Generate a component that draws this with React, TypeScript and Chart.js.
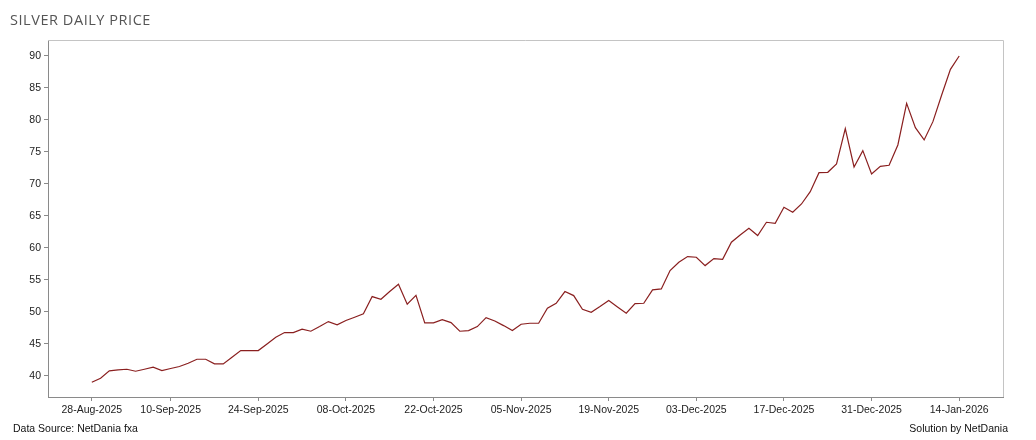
import React, { useEffect, useRef } from "react";
import { Chart, registerables } from "chart.js";

Chart.register(...registerables);

const TITLE = "SILVER DAILY PRICE";
const SOURCE = "Data Source: NetDania fxa";
const CREDIT = "Solution by NetDania";

// x-axis tick labels and the trading-day index (0-based) where each sits
const tickLabels = [
  "28-Aug-2025", "10-Sep-2025", "24-Sep-2025", "08-Oct-2025", "22-Oct-2025",
  "05-Nov-2025", "19-Nov-2025", "03-Dec-2025", "17-Dec-2025", "31-Dec-2025", "14-Jan-2026",
];
const tickIndex = [0, 9, 19, 29, 39, 49, 59, 69, 79, 89, 99];

const yTicks = [40, 45, 50, 55, 60, 65, 70, 75, 80, 85, 90];

// daily closing prices, one per trading day from 28-Aug-2025 to 14-Jan-2026
const prices = [
  39.0, 39.64, 40.78, 40.94, 41.04, 40.73, 41.04, 41.35, 40.83, 41.15,
  41.46, 41.98, 42.6, 42.6, 41.88, 41.88, 42.92, 43.96, 43.96, 43.96,
  45.0, 46.04, 46.77, 46.77, 47.29, 46.98, 47.71, 48.49, 47.97, 48.65,
  49.17, 49.69, 52.4, 51.98, 53.18, 54.32, 51.2, 52.6, 48.28, 48.28,
  48.8, 48.33, 46.98, 47.08, 47.71, 49.11, 48.59, 47.86, 47.08, 48.07,
  48.23, 48.23, 50.57, 51.35, 53.18, 52.55, 50.42, 49.95, 50.83, 51.77,
  50.78, 49.8, 51.3, 51.35, 53.44, 53.59, 56.46, 57.76, 58.65, 58.54,
  57.24, 58.33, 58.23, 60.89, 62.03, 63.07, 61.93, 64.01, 63.85, 66.35,
  65.57, 66.87, 68.8, 71.77, 71.82, 73.13, 78.65, 72.66, 75.21, 71.56,
  72.76, 72.92, 76.09, 82.6, 78.8, 76.88, 79.74, 83.9, 87.92, 90.0,
];

const frameBorder = {
  id: "frameBorder",
  beforeDatasetsDraw(chart: any) {
    const { ctx, chartArea } = chart;
    ctx.save();
    ctx.strokeStyle = "#c4c4c4";
    ctx.lineWidth = 1;
    ctx.beginPath();
    ctx.moveTo(chartArea.left, chartArea.top + 0.5);
    ctx.lineTo(chartArea.right + 0.5, chartArea.top + 0.5);
    ctx.lineTo(chartArea.right + 0.5, chartArea.bottom);
    ctx.stroke();
    ctx.restore();
  },
};

export default function App() {
  const canvasRef = useRef<HTMLCanvasElement | null>(null);

  useEffect(() => {
    document.body.style.margin = "0";
    const canvas = canvasRef.current;
    if (!canvas) return;
    const chart = new Chart(canvas, {
      type: "line",
      data: {
        datasets: [
          {
            label: "Silver",
            data: prices.map((v, i) => ({ x: i, y: v })),
            borderColor: "#8a1f1f",
            borderWidth: 1.2,
            pointRadius: 0,
            tension: 0,
            fill: false,
          },
        ],
      },
      options: {
        animation: false,
        responsive: false,
        devicePixelRatio: 1,
        layout: { padding: { left: 0, top: 40, right: 33, bottom: 0 } },
        plugins: { legend: { display: false }, tooltip: { enabled: false }, title: { display: false } },
        scales: {
          x: {
            type: "linear",
            min: -5,
            max: 104,
            afterFit(scale: any) {
              scale.height = 43;
            },
            afterBuildTicks(scale: any) {
              scale.ticks = tickIndex.map((v) => ({ value: v }));
            },
            grid: { drawOnChartArea: false, tickLength: 4, color: "#8a8a8a" },
            border: { color: "#8a8a8a" },
            ticks: {
              autoSkip: false,
              maxRotation: 0,
              padding: 3,
              color: "#222",
              font: { family: "'Liberation Sans', Arial, sans-serif", size: 10.5 },
              callback: (value: any) => {
                const k = tickIndex.indexOf(Number(value));
                return k >= 0 ? tickLabels[k] : "";
              },
            },
          },
          y: {
            type: "linear",
            min: 36.7,
            max: 92.5,
            afterFit(scale: any) {
              scale.width = 48;
            },
            afterBuildTicks(scale: any) {
              scale.ticks = yTicks.map((v) => ({ value: v }));
            },
            grid: { drawOnChartArea: false, tickLength: 4, color: "#8a8a8a" },
            border: { color: "#8a8a8a" },
            ticks: {
              padding: 3,
              color: "#222",
              font: { family: "'Liberation Sans', Arial, sans-serif", size: 10.5 },
            },
          },
        },
      },
      plugins: [frameBorder],
    });
    return () => chart.destroy();
  }, []);

  return (
    <div style={{ position: "relative", width: 1036, height: 440, background: "#fff" }}>
      <canvas ref={canvasRef} width={1036} height={440} style={{ display: "block" }} />
      <div
        style={{
          position: "absolute",
          left: 10,
          top: 10,
          fontFamily: "'Open Sans', sans-serif",
          fontSize: 14.5,
          letterSpacing: "0.55px",
          color: "#555",
          lineHeight: "20px",
          whiteSpace: "nowrap",
        }}
      >
        {TITLE}
      </div>
      <div
        style={{
          position: "absolute",
          left: 13,
          top: 421,
          fontFamily: "'Liberation Sans', Arial, sans-serif",
          fontSize: 10.5,
          color: "#111",
          lineHeight: "14px",
          whiteSpace: "nowrap",
        }}
      >
        {SOURCE}
      </div>
      <div
        style={{
          position: "absolute",
          right: 28,
          top: 421,
          fontFamily: "'Liberation Sans', Arial, sans-serif",
          fontSize: 10.5,
          color: "#111",
          lineHeight: "14px",
          whiteSpace: "nowrap",
        }}
      >
        {CREDIT}
      </div>
    </div>
  );
}
